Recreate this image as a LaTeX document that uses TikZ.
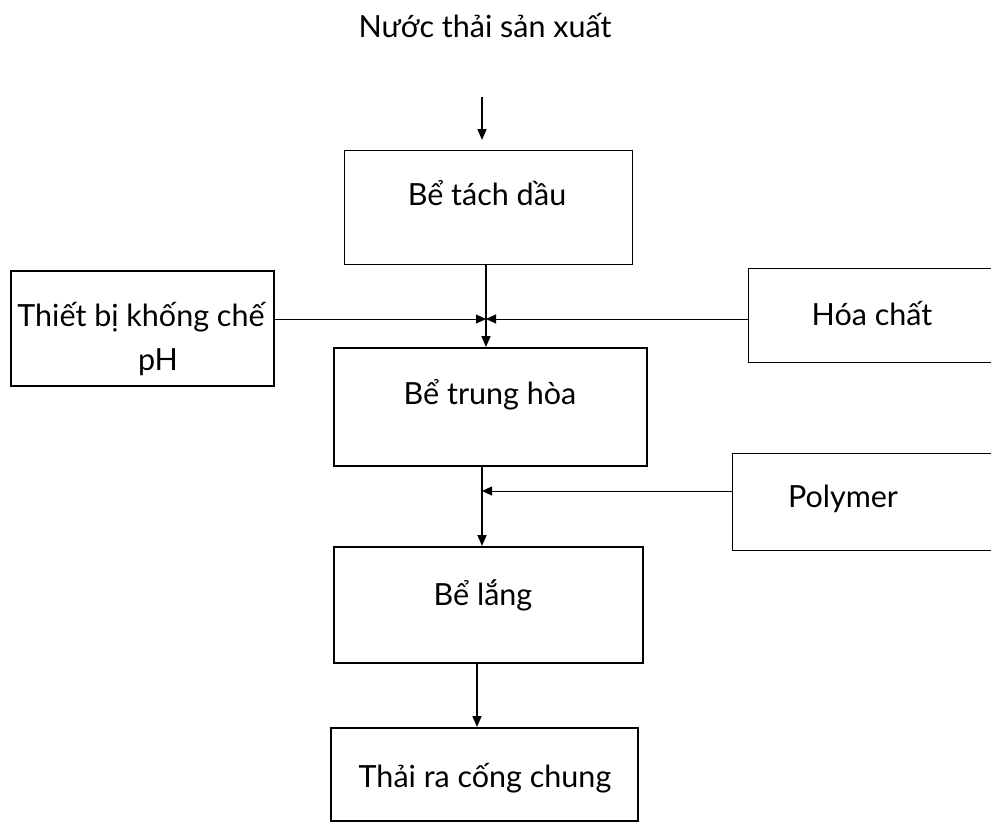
\documentclass[tikz,border=0pt]{standalone}
\usepackage{fontspec}
\setmainfont{Lato}
\usetikzlibrary{arrows.meta}
\begin{document}
\begin{tikzpicture}[x=1pt,y=-1pt,
  box/.style={draw, anchor=north west, inner sep=0pt},
  thinbox/.style={box, line width=1.2pt},
  boldbox/.style={box, line width=2.4pt},
  lbl/.style={font=\fontsize{30.5}{44}\selectfont, inner sep=0pt, anchor=base},
  flow/.style={line width=1.6pt, -{Triangle[length=11pt,width=9pt]}},
  feed/.style={line width=0.9pt, -{Triangle[length=10pt,width=9pt]}}]
\clip (0,0) rectangle (991,823);
\fill[white] (0,0) rectangle (991,823);

% process boxes
\node[thinbox, minimum width=288pt, minimum height=114pt] (tach) at (344,150) {};
\node[boldbox, minimum width=313pt, minimum height=118pt] (trung) at (333,347) {};
\node[boldbox, minimum width=309pt, minimum height=116pt] (lang) at (333,546) {};
\node[boldbox, minimum width=307pt, minimum height=93pt] (thai) at (330,727) {};

% side boxes
\node[boldbox, minimum width=263pt, minimum height=115pt] (ph) at (10,270) {};
\node[thinbox, minimum width=300pt, minimum height=94pt] (hoa) at (748,268) {};
\node[thinbox, minimum width=300pt, minimum height=97pt] (poly) at (732,453) {};

% labels
\node[lbl] (src) at (485,37) {Nước thải sản xuất};
\node[lbl] (tachT) at (487,205) {Bể tách dầu};
\node[lbl] (trungT) at (490,404) {Bể trung hòa};
\node[lbl] (langT) at (483,605) {Bể lắng};
\node[lbl] (thaiT) at (485,787) {Thải ra cống chung};
\node[lbl, align=center] (phT) at (141,370) {Thiết bị khống chế\\\hspace*{34pt}pH};
\node[lbl] (hoaT) at (872,325) {Hóa chất};
\node[lbl] (polyT) at (843,507) {Polymer};

% junction points
\coordinate (in1) at (482,97);
\coordinate (in2) at (482,140);
\coordinate (j1) at (486,319);
\coordinate (j2) at (482,491);
\coordinate (j3) at (477,700);

% connectors
\draw[flow] (in1) -- (in2);
\draw[flow] (tach.south -| j1) -- (trung.north -| j1);
\draw[feed] (ph.east |- j1) -- (j1);
\draw[feed] (hoa.west |- j1) -- (j1);
\draw[flow] (trung.south -| j2) -- (lang.north -| j2);
\draw[feed] (poly.west |- j2) -- (j2);
\draw[flow] (lang.south -| j3) -- (thai.north -| j3);
\end{tikzpicture}
\end{document}
